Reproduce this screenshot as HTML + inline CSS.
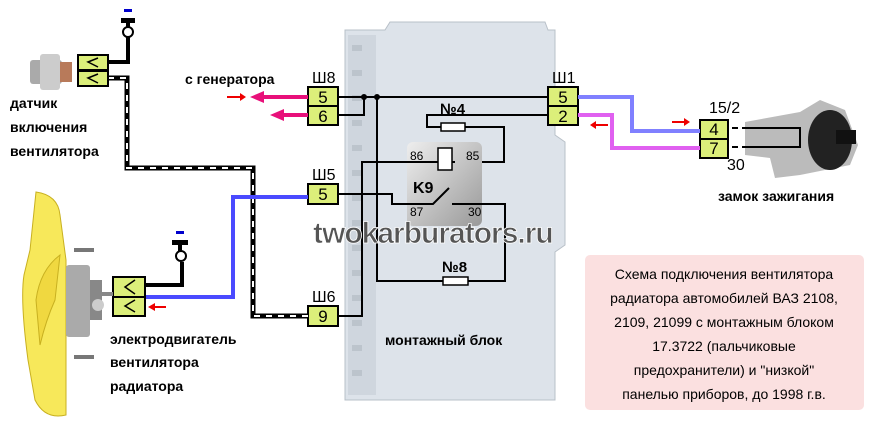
<!DOCTYPE html>
<html><head><meta charset="utf-8"><style>
html,body{margin:0;padding:0;background:#fff}
svg{display:block}
text{font-family:"Liberation Sans","DejaVu Sans",sans-serif}
</style></head><body>
<svg width="874" height="427" viewBox="0 0 874 427" xmlns="http://www.w3.org/2000/svg">
<!-- mounting block -->
<path d="M345 30 L385 30 L390 22 L545 22 L548 30 L555 30 L555 135 L565 142 L565 245 L555 252 L555 400 L345 400 Z" fill="#dde3ea" stroke="#b8c0c8"/>
<rect x="348" y="35" width="28" height="360" fill="#cfd6de"/>
<g fill="#bcc4cc">
<rect x="352" y="45" width="10" height="6"/><rect x="352" y="70" width="10" height="6"/><rect x="352" y="95" width="10" height="6"/><rect x="352" y="120" width="10" height="6"/><rect x="352" y="145" width="10" height="6"/><rect x="352" y="170" width="10" height="6"/><rect x="352" y="195" width="10" height="6"/><rect x="352" y="220" width="10" height="6"/><rect x="352" y="245" width="10" height="6"/><rect x="352" y="270" width="10" height="6"/><rect x="352" y="295" width="10" height="6"/><rect x="352" y="320" width="10" height="6"/><rect x="352" y="345" width="10" height="6"/><rect x="352" y="370" width="10" height="6"/>
</g>
<!-- relay -->
<defs><linearGradient id="rg" x1="0" y1="0" x2="1" y2="1"><stop offset="0" stop-color="#eeeeee"/><stop offset="1" stop-color="#999"/></linearGradient></defs>
<rect x="407" y="142" width="75" height="84" rx="6" fill="url(#rg)"/>
<g stroke="#000" stroke-width="2" fill="none">
<path d="M338 97 H548"/>
<path d="M338 115 H364 V97"/>
<path d="M377 97 V281 H443 M468 281 H505 V204 H452"/>
<path d="M548 115 H427 V127 H441 M465 127 H504 V162 H482"/>
<path d="M455 162 H407 H362 V316 H338"/>
<path d="M338 194 H392 V204 H433 L449 188"/>
<path d="M445 150 V165"/>
</g>
<circle cx="364" cy="97" r="3"/><circle cx="377" cy="97" r="3"/>
<rect x="438" y="148" width="14" height="22" fill="#fff" stroke="#000" stroke-width="1.5"/>
<rect x="441" y="123" width="24" height="8" fill="#fff" stroke="#000" stroke-width="1.5"/>
<rect x="443" y="277" width="25" height="8" fill="#fff" stroke="#000" stroke-width="1.5"/>
<g font-size="12" fill="#000">
<text x="410" y="160">86</text><text x="466" y="160">85</text>
<text x="410" y="216">87</text><text x="468" y="216">30</text>
</g>
<text x="413" y="193" font-size="16" font-weight="bold">K9</text>
<text x="440" y="114" font-size="15" font-weight="bold">№4</text>
<text x="442" y="272" font-size="15" font-weight="bold">№8</text>
<!-- watermark -->
<text x="313" y="243" font-size="30" font-family="Liberation Mono,monospace" font-weight="bold" fill="#555" stroke="#fff" stroke-width="0.8" letter-spacing="-1">twokarburators.ru</text>
<text x="385" y="345" font-size="14" font-weight="bold" fill="#000">монтажный блок</text>
<!-- connectors -->
<g stroke="#000" stroke-width="2" fill="#dcef7a">
<rect x="308" y="87" width="30" height="19"/><rect x="308" y="106" width="30" height="19"/>
<rect x="548" y="87" width="30" height="19"/><rect x="548" y="106" width="30" height="19"/>
<rect x="308" y="184" width="30" height="20"/><rect x="308" y="306" width="30" height="20"/>
<rect x="700" y="120" width="28" height="19"/><rect x="700" y="139" width="28" height="19"/>
</g>
<g font-size="17" fill="#000" text-anchor="middle">
<text x="323" y="103">5</text><text x="323" y="122">6</text>
<text x="563" y="103">5</text><text x="563" y="122">2</text>
<text x="323" y="200">5</text><text x="323" y="322">9</text>
<text x="714" y="135">4</text><text x="714" y="154">7</text>
</g>
<g font-size="16" fill="#000">
<text x="312" y="83">Ш8</text><text x="552" y="83">Ш1</text>
<text x="312" y="180">Ш5</text><text x="312" y="302">Ш6</text>
<text x="709" y="113">15/2</text><text x="727" y="170">30</text>
</g>
<path d="M578 97 H632 V131 H700" stroke="#8080ff" stroke-width="4" fill="none"/>
<path d="M578 115 H612 V148 H700" stroke="#e060f0" stroke-width="4" fill="none"/>
<path d="M308 97 H262" stroke="#e8107a" stroke-width="4"/><path d="M250 97 L264 91 L264 103 Z" fill="#e8107a"/>
<path d="M308 115 H282" stroke="#e8107a" stroke-width="4"/><path d="M270 115 L284 109 L284 121 Z" fill="#e8107a"/>
<text x="185" y="84" font-size="14" font-weight="bold">с генератора</text>
<g fill="#e00">
<path d="M227 96 H240 V93 L246 97 L240 101 V98 H227 Z"/>
<path d="M608 124 H596 V121 L590 125 L596 129 V126 H608 Z"/>
<path d="M672 121 H684 V118 L690 122 L684 126 V123 H672 Z"/>
<path d="M166 306 H155 V303 L148 307 L155 311 V308 H166 Z"/>
</g>
<path d="M108 78 H127 V168 H253 V316 H308" stroke="#000" stroke-width="5" fill="none"/>
<path d="M108 78 H127 V168 H253 V316 H308" stroke="#fff" stroke-width="2" stroke-dasharray="6 6" fill="none"/>
<path d="M145 297 H233 V197 H308" stroke="#4a4aff" stroke-width="4" fill="none"/>
<!-- sensor -->
<rect x="30" y="60" width="32" height="24" fill="#aaa" rx="3"/>
<rect x="40" y="54" width="20" height="36" fill="#ccc" rx="3"/>
<rect x="60" y="62" width="12" height="20" fill="#b87a5a"/>
<path d="M108 62 H128 V36" stroke="#000" stroke-width="4" fill="none"/>
<circle cx="128" cy="32" r="5" fill="#fff" stroke="#000" stroke-width="2"/>
<rect x="121" y="18" width="14" height="5"/><rect x="126" y="20" width="4" height="7"/>
<rect x="124" y="9" width="8" height="3" fill="#00c"/>
<g stroke="#000" stroke-width="2" fill="#dcef7a">
<rect x="78" y="55" width="30" height="15"/><rect x="78" y="71" width="30" height="15"/>
<rect x="113" y="277" width="32" height="20"/><rect x="113" y="297" width="32" height="19"/>
</g>
<path d="M98 58 L88 62 L98 67 M98 74 L88 78 L98 83 M135 280 L125 287 L135 294 M135 300 L125 306 L135 312" stroke="#000" stroke-width="1.5" fill="none"/>
<g font-size="14" font-weight="bold" fill="#000">
<text x="10" y="108">датчик</text><text x="10" y="132">включения</text><text x="10" y="156">вентилятора</text>
<text x="110" y="344">электродвигатель</text><text x="110" y="367">вентилятора</text><text x="110" y="391">радиатора</text>
<text x="718" y="201">замок зажигания</text>
</g>
<!-- fan -->
<path d="M36 192 Q58 195 60 215 L66 260 L66 415 Q45 420 35 400 L28 360 Q20 300 24 275 L30 250 Z" fill="#f7e85a" stroke="#c8b020"/>
<path d="M60 255 Q40 270 36 300 L40 345 Q46 320 55 300 Z" fill="#f0d840" stroke="#c8b020"/>
<rect x="66" y="265" width="24" height="72" fill="#aaa" rx="3"/>
<rect x="90" y="280" width="12" height="40" fill="#888"/>
<circle cx="98" cy="305" r="6" fill="#ccc"/>
<rect x="74" y="248" width="20" height="4" fill="#777"/><rect x="74" y="355" width="20" height="4" fill="#777"/>
<rect x="100" y="292" width="13" height="4" fill="#888"/>
<path d="M145 285 H182 V262" stroke="#000" stroke-width="4" fill="none"/>
<circle cx="181" cy="256" r="5" fill="#fff" stroke="#000" stroke-width="2"/>
<rect x="172" y="240" width="16" height="5"/><rect x="178" y="243" width="4" height="8"/>
<rect x="176" y="231" width="8" height="3" fill="#00c"/>
<!-- ignition switch -->
<path d="M745 122 L800 112 L820 100 L845 110 L858 145 L850 165 L800 175 L775 178 L770 158 L745 155 Z" fill="#bbb"/>
<ellipse cx="830" cy="140" rx="22" ry="30" fill="#222"/>
<rect x="836" y="130" width="20" height="14" fill="#111"/>
<path d="M732 128 H738 M732 147 H738 M742 128 H800 V147 H742" stroke="#000" stroke-width="2" fill="none"/>
<!-- info box -->
<rect x="585" y="255" width="279" height="155" rx="5" fill="#fbe0e0"/>
<g font-size="14" fill="#000" text-anchor="middle">
<text x="724" y="279">Схема подключения вентилятора</text>
<text x="724" y="303">радиатора автомобилей ВАЗ 2108,</text>
<text x="724" y="327">2109, 21099 с монтажным блоком</text>
<text x="724" y="351">17.3722 (пальчиковые</text>
<text x="724" y="375">предохранители) и "низкой"</text>
<text x="724" y="399">панелью приборов, до 1998 г.в.</text>
</g>
</svg>
</body></html>
